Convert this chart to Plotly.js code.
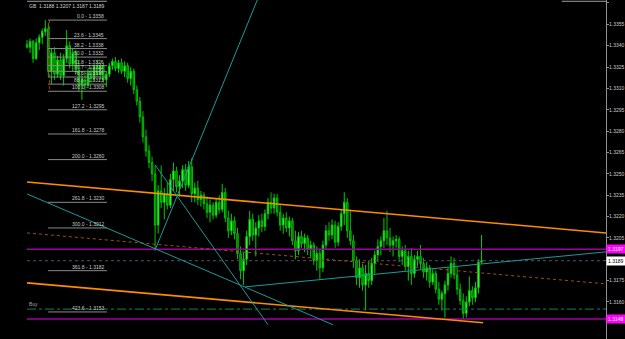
<!DOCTYPE html>
<html><head><meta charset="utf-8">
<script src="https://cdn.plot.ly/plotly-3.0.1.min.js"></script>
<style>html,body{margin:0;padding:0;background:#000;}#chart{width:625px;height:339px;}</style>
</head><body><div id="chart"></div>
<script>
// ---- data ----
const opens = [1.3341,1.3339,1.3343,1.3331,1.3342,1.3346,1.3350,1.3352,1.3322,1.3335,1.3320,1.3330,1.3319,1.3331,1.3340,1.3327,1.3335,1.3323,1.3312,1.3316,1.3312,1.3321,1.3317,1.3325,1.3320,1.3326,1.3316,1.3320,1.3326,1.3329,1.3324,1.3328,1.3322,1.3326,1.3317,1.3322,1.3309,1.3301,1.3290,1.3276,1.3266,1.3258,1.3250,1.3214,1.3238,1.3230,1.3236,1.3228,1.3246,1.3252,1.3241,1.3245,1.3253,1.3242,1.3255,1.3236,1.3240,1.3232,1.3235,1.3229,1.3223,1.3228,1.3221,1.3230,1.3225,1.3237,1.3219,1.3210,1.3217,1.3208,1.3194,1.3182,1.3190,1.3206,1.3218,1.3207,1.3212,1.3217,1.3213,1.3222,1.3230,1.3226,1.3233,1.3223,1.3214,1.3219,1.3212,1.3217,1.3203,1.3196,1.3206,1.3201,1.3205,1.3197,1.3200,1.3189,1.3194,1.3184,1.3200,1.3210,1.3207,1.3214,1.3202,1.3213,1.3222,1.3230,1.3210,1.3203,1.3189,1.3177,1.3184,1.3172,1.3180,1.3175,1.3187,1.3193,1.3199,1.3203,1.3210,1.3205,1.3200,1.3203,1.3204,1.3192,1.3196,1.3185,1.3192,1.3180,1.3190,1.3192,1.3187,1.3181,1.3184,1.3174,1.3180,1.3169,1.3162,1.3166,1.3172,1.3180,1.3187,1.3179,1.3169,1.3161,1.3152,1.3160,1.3168,1.3163,1.3170,1.3188];
const highs = [1.3344,1.3345,1.3344,1.3345,1.3348,1.3352,1.3358,1.3356,1.3338,1.3339,1.3333,1.3335,1.3334,1.3351,1.3343,1.3338,1.3337,1.3330,1.3320,1.3322,1.3324,1.3325,1.3327,1.3330,1.3328,1.3328,1.3322,1.3328,1.3331,1.3332,1.3330,1.3331,1.3329,1.3328,1.3325,1.3324,1.3312,1.3304,1.3294,1.3281,1.3270,1.3262,1.3256,1.3242,1.3256,1.3240,1.3244,1.3250,1.3258,1.3255,1.3249,1.3256,1.3257,1.3259,1.3261,1.3244,1.3245,1.3238,1.3237,1.3234,1.3232,1.3230,1.3233,1.3235,1.3243,1.3240,1.3224,1.3222,1.3220,1.3212,1.3199,1.3195,1.3210,1.3224,1.3222,1.3216,1.3221,1.3222,1.3225,1.3233,1.3237,1.3236,1.3236,1.3228,1.3222,1.3223,1.3220,1.3219,1.3210,1.3209,1.3210,1.3208,1.3207,1.3203,1.3202,1.3199,1.3197,1.3203,1.3214,1.3216,1.3218,1.3217,1.3216,1.3225,1.3237,1.3233,1.3225,1.3207,1.3192,1.3190,1.3187,1.3186,1.3189,1.3191,1.3196,1.3204,1.3206,1.3219,1.3224,1.3212,1.3206,1.3207,1.3206,1.3199,1.3200,1.3196,1.3198,1.3193,1.3196,1.3200,1.3191,1.3188,1.3186,1.3183,1.3182,1.3174,1.3168,1.3175,1.3184,1.3192,1.3191,1.3185,1.3173,1.3166,1.3164,1.3178,1.3171,1.3174,1.3190,1.3207];
const lows = [1.3338,1.3335,1.3328,1.3330,1.3337,1.3341,1.3347,1.3318,1.3313,1.3316,1.3318,1.3316,1.3312,1.3328,1.3324,1.3322,1.3320,1.3308,1.3302,1.3309,1.3310,1.3314,1.3315,1.3318,1.3316,1.3314,1.3311,1.3318,1.3323,1.3322,1.3321,1.3320,1.3318,1.3314,1.3312,1.3306,1.3298,1.3286,1.3272,1.3262,1.3254,1.3245,1.3196,1.3208,1.3226,1.3218,1.3225,1.3226,1.3238,1.3237,1.3234,1.3240,1.3238,1.3240,1.3230,1.3230,1.3228,1.3227,1.3225,1.3219,1.3216,1.3218,1.3219,1.3222,1.3223,1.3216,1.3205,1.3207,1.3204,1.3190,1.3176,1.3172,1.3186,1.3200,1.3203,1.3192,1.3206,1.3209,1.3210,1.3218,1.3222,1.3222,1.3220,1.3210,1.3208,1.3209,1.3206,1.3200,1.3190,1.3193,1.3198,1.3195,1.3193,1.3191,1.3186,1.3182,1.3176,1.3181,1.3197,1.3203,1.3204,1.3198,1.3199,1.3210,1.3214,1.3205,1.3200,1.3184,1.3172,1.3170,1.3168,1.3154,1.3170,1.3172,1.3180,1.3188,1.3193,1.3198,1.3200,1.3195,1.3192,1.3198,1.3188,1.3186,1.3182,1.3175,1.3172,1.3177,1.3185,1.3183,1.3177,1.3175,1.3170,1.3172,1.3166,1.3158,1.3154,1.3149,1.3168,1.3177,1.3176,1.3165,1.3158,1.3148,1.3149,1.3157,1.3158,1.3160,1.3166,1.3187];
const closes = [1.3339,1.3343,1.3331,1.3342,1.3346,1.3350,1.3352,1.3322,1.3335,1.3320,1.3330,1.3319,1.3331,1.3340,1.3327,1.3335,1.3323,1.3312,1.3316,1.3312,1.3321,1.3317,1.3325,1.3320,1.3326,1.3316,1.3320,1.3326,1.3329,1.3324,1.3328,1.3322,1.3326,1.3317,1.3322,1.3309,1.3301,1.3290,1.3276,1.3266,1.3258,1.3250,1.3214,1.3238,1.3230,1.3236,1.3228,1.3246,1.3252,1.3241,1.3245,1.3253,1.3242,1.3255,1.3236,1.3240,1.3232,1.3235,1.3229,1.3223,1.3228,1.3221,1.3230,1.3225,1.3237,1.3219,1.3210,1.3217,1.3208,1.3194,1.3182,1.3190,1.3206,1.3218,1.3207,1.3212,1.3217,1.3213,1.3222,1.3230,1.3226,1.3233,1.3223,1.3214,1.3219,1.3212,1.3217,1.3203,1.3196,1.3206,1.3201,1.3205,1.3197,1.3200,1.3189,1.3194,1.3184,1.3200,1.3210,1.3207,1.3214,1.3202,1.3213,1.3222,1.3230,1.3210,1.3203,1.3189,1.3177,1.3184,1.3172,1.3180,1.3175,1.3187,1.3193,1.3199,1.3203,1.3210,1.3205,1.3200,1.3203,1.3204,1.3192,1.3196,1.3185,1.3192,1.3180,1.3190,1.3192,1.3187,1.3181,1.3184,1.3174,1.3180,1.3169,1.3162,1.3166,1.3172,1.3180,1.3187,1.3179,1.3169,1.3161,1.3152,1.3160,1.3168,1.3163,1.3170,1.3188,1.3189];
const barIndex = opens.map((_, i) => i);

const fibLevels = ['0.0','23.6','38.2','50.0','61.8','70.7','78.6','88.6','100.0','127.2','161.8','200.0','261.8','300.0','361.8','423.6'];
const fibPrices = [1.3358,1.3345,1.3338,1.3332,1.3326,1.3322,1.3318,1.3313,1.3308,1.3295,1.3278,1.3260,1.3230,1.3212,1.3182,1.3153];
const fibStartBar = 6.9, fibEndBar = 26.2;

// visible tick labels (1.3190 and 1.3145 sit under the price boxes)
const yTicks = [1.3160,1.3175,1.3205,1.3220,1.3235,1.3250,1.3265,1.3280,1.3295,1.3310,1.3325,1.3340,1.3355,1.3370];
const magentaLevels = [1.3197, 1.3148];
const bidPrice = 1.3189;
const buyPrice = 1.3155;
const legendText = 'GB  1.3188 1.3207 1.3187 1.3189';

// trend lines: [bar0, price0, bar1, price1]
const orangeLines = [[0,1.32443,189.8,1.32085],[0,1.31734,149.5,1.31454]];
const orangeMid = [0,1.32085,189.8,1.31727];
const tealLines = [[0,1.32359,100.3,1.31440],[42,1.31966,77,1.33800],[42,1.32563,79,1.31440],[71.5,1.31706,189.8,1.31952]];
const topLines = [[0,26.2],[175.3,189.8]];
const topPrice = 1.33712;

// ---- build ----
const X0 = -8.85, X1 = 189.8;
const shapes = [];
const annotations = [];
const line = (x0,y0,x1,y1,color,width,dash) => shapes.push({type:'line',xref:'x',yref:'y',x0,y0,x1,y1,line:{color,width,dash:dash||'solid'},layer:'above'});

fibPrices.forEach((p,i)=>{
  line(fibStartBar,p,fibEndBar,p,'#8a8a8a',1);
  annotations.push({xref:'x',yref:'y',x:fibEndBar-0.3,y:p,text:fibLevels[i]+' - '+p.toFixed(4),showarrow:false,xanchor:'right',yanchor:'bottom',yshift:-1,font:{family:'Liberation Sans',size:5,color:'#c8c8c8'}});
});
line(7.4,fibPrices[0],7.4,fibPrices[8],'#cc2020',1,'dot');
topLines.forEach(t=>line(t[0],topPrice,t[1],topPrice,'#a0a0a0',1));

magentaLevels.forEach(p=>line(0,p,X1,p,'#a000a0',1.5));
line(0,bidPrice,X1,bidPrice,'#50506a',1,'dot');
line(0,buyPrice,X1,buyPrice,'#108060',1,'dashdot');
line(orangeMid[0],orangeMid[1],orangeMid[2],orangeMid[3],'#a05010',1,'dot');
orangeLines.forEach(l=>line(l[0],l[1],l[2],l[3],'#ff8c00',1.6));
tealLines.forEach(l=>line(l[0],l[1],l[2],l[3],'#1a9a9a',1));

annotations.push({xref:'paper',yref:'paper',x:0.044,y:0.998,text:legendText,showarrow:false,xanchor:'left',yanchor:'top',font:{family:'Liberation Sans',size:5,color:'#d0d0d0'}});
annotations.push({xref:'x',yref:'y',x:0,y:buyPrice,text:'Buy',showarrow:false,xanchor:'left',yanchor:'bottom',font:{family:'Liberation Sans',size:5,color:'#a0a0a0'}});
magentaLevels.forEach(p=>annotations.push({xref:'paper',yref:'y',x:1,y:p,text:p.toFixed(4),showarrow:false,xanchor:'left',yanchor:'middle',bgcolor:'#ff00ff',borderpad:1,font:{family:'Liberation Sans',size:5,color:'#ffffff'}}));
annotations.push({xref:'paper',yref:'y',x:1,y:bidPrice,text:bidPrice.toFixed(4),showarrow:false,xanchor:'left',yanchor:'middle',bgcolor:'#ffffff',borderpad:1,font:{family:'Liberation Sans',size:5,color:'#000000'}});

const trace = {
  type:'candlestick', x:barIndex, open:opens, high:highs, low:lows, close:closes,
  increasing:{line:{color:'#00d000',width:1},fillcolor:'#70ff70'},
  decreasing:{line:{color:'#00c000',width:1},fillcolor:'#006a00'},
  whiskerwidth:0, hoverinfo:'skip'
};

const layout = {
  width:625, height:339,
  margin:{l:0,r:19,t:0,b:0},
  paper_bgcolor:'#000', plot_bgcolor:'#000',
  showlegend:false,
  xaxis:{range:[X0,X1],visible:false,rangeslider:{visible:false},fixedrange:true},
  yaxis:{range:[1.31340,1.33721],side:'right',showgrid:false,zeroline:false,showline:true,linecolor:'#909090',linewidth:1,
    tickvals:yTicks,ticktext:yTicks.map(v=>v.toFixed(4)),ticks:'outside',ticklen:2,tickcolor:'#909090',ticklabelstandoff:-1,
    tickfont:{family:'Liberation Sans',size:5,color:'#c8c8c8'},fixedrange:true},
  shapes, annotations
};
Plotly.newPlot('chart',[trace],layout,{staticPlot:true,displayModeBar:false});
</script></body></html>
